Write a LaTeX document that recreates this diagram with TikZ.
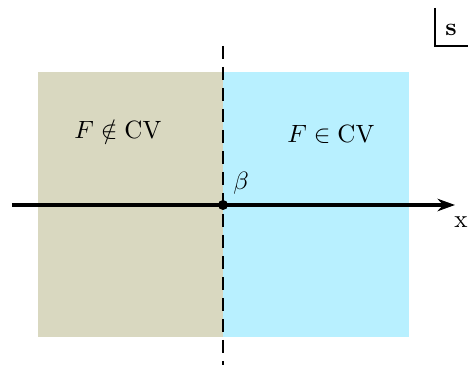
\documentclass[tikz,border=0pt]{standalone}
\usepackage{amssymb}
\usetikzlibrary{arrows.meta}
\definecolor{beigeR}{RGB}{217,216,192}
\definecolor{cyanR}{RGB}{184,240,255}
\begin{document}
\begin{tikzpicture}[x=0.4pt,y=-0.4pt,
  region/.style={draw=none},
  axisline/.style={line width=1.5pt,-{Stealth[length=7pt,width=5pt]}},
  divider/.style={line width=0.8pt,dash pattern=on 5.2pt off 3.2pt},
  lbl/.style={inner sep=0pt}]
\useasboundingbox (0,0) rectangle (468,365);
\fill[beigeR] (38,72) rectangle (223,337);
\fill[cyanR] (223,72) rectangle (409,337);
\coordinate (dtop) at (223,46);
\coordinate (dbot) at (223,365);
\draw[divider] (dtop) -- (dbot);
\coordinate (xl) at (12,205);
\coordinate (xr) at (455,205);
\draw[axisline] (xl) -- (xr);
\node[circle,fill=black,inner sep=0pt,minimum size=4pt] (beta) at (223,205) {};
\node[lbl] (betalbl) at (241,183) {$\beta$};
\node[lbl] (xlbl) at (461,222) {x};
\node[lbl] (notin) at (118,130) {$F\notin\mathrm{CV}$};
\node[lbl] (isin) at (331,134) {$F\in\mathrm{CV}$};
\coordinate (s1) at (435,8);
\coordinate (s2) at (435,46);
\coordinate (s3) at (468,46);
\draw[line width=0.8pt] (s1) -- (s2) -- (s3);
\node[lbl] (slbl) at (451,30) {$\mathbf{s}$};
\end{tikzpicture}
\end{document}
